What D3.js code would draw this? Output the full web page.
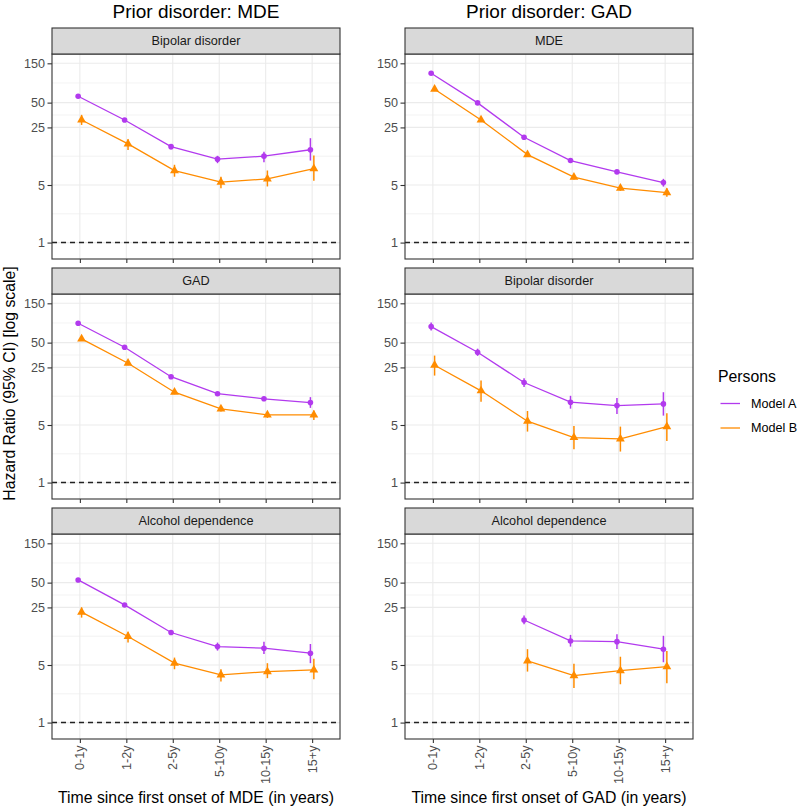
<!DOCTYPE html>
<html>
<head>
<meta charset="utf-8">
<script src="https://cdn.jsdelivr.net/npm/d3@7"></script>
<style>
  html, body { margin: 0; padding: 0; background: #fff; }
  svg { display: block; font-family: "Liberation Sans", Arial, sans-serif; }
</style>
</head>
<body>
<svg id="chart" width="800" height="809"></svg>
<script>
// ---------------- DATA ----------------
const categories = ["0-1y", "1-2y", "2-5y", "5-10y", "10-15y", "15+y"];
const columnTitles = ["Prior disorder: MDE", "Prior disorder: GAD"];
const xAxisTitles = ["Time since first onset of MDE (in years)", "Time since first onset of GAD (in years)"];
const yTickValues = [1, 5, 25, 50, 150];
const seriesNames = ["Model A", "Model B"];
const legendTitle = "Persons";
const yAxisTitle = "Hazard Ratio (95% CI) [log scale]";

// Column 1: prior MDE
const mdeStrips = ["Bipolar disorder", "GAD", "Alcohol dependence"];
// Column 2: prior GAD
const gadStrips = ["MDE", "Bipolar disorder", "Alcohol dependence"];

// MDE -> Bipolar disorder
const mdeBipA    = [59.8, 30.8, 14.6, 10.3, 11.2, 13.4];
const mdeBipA_lo = [56.5, 29.2, 13.6, 9.2, 9.45, 9.9];
const mdeBipA_hi = [63.5, 32.5, 15.7, 11.3, 12.7, 18.5];
const mdeBipB    = [30.8, 15.8, 7.48, 5.41, 5.93, 7.9];
const mdeBipB_lo = [26.8, 13.3, 6.3, 4.57, 4.8, 5.65];
const mdeBipB_hi = [35.5, 18.0, 8.8, 6.3, 7.5, 11.4];

// MDE -> GAD
const mdeGadA    = [86.0, 44.0, 19.3, 12.0, 10.4, 9.35];
const mdeGadA_lo = [83.0, 42.5, 18.5, 11.4, 9.8, 8.07];
const mdeGadA_hi = [89.0, 45.5, 20.1, 12.6, 11.0, 10.9];
const mdeGadB    = [55.5, 28.1, 12.5, 7.84, 6.63, 6.63];
const mdeGadB_lo = [52.5, 26.5, 11.8, 7.3, 6.1, 5.77];
const mdeGadB_hi = [58.5, 29.8, 13.2, 8.4, 7.2, 7.5];

// MDE -> Alcohol dependence
const mdeAlcA    = [53.9, 26.8, 12.4, 8.36, 8.0, 6.95];
const mdeAlcA_lo = [51.0, 25.4, 11.6, 7.48, 6.8, 5.26];
const mdeAlcA_hi = [57.0, 28.3, 13.3, 9.35, 9.6, 9.0];
const mdeAlcB    = [21.9, 11.1, 5.26, 3.79, 4.16, 4.36];
const mdeAlcB_lo = [18.8, 9.35, 4.44, 3.15, 3.46, 3.36];
const mdeAlcB_hi = [25.0, 12.7, 6.15, 4.44, 5.26, 5.94];

// GAD -> MDE
const gadMdeA    = [113.7, 49.6, 19.0, 9.9, 7.21, 5.35];
const gadMdeA_lo = [109.0, 47.8, 18.2, 9.4, 6.85, 4.78];
const gadMdeA_hi = [118.5, 51.4, 19.8, 10.4, 7.6, 5.94];
const gadMdeB    = [72.7, 30.8, 11.7, 6.22, 4.57, 4.04];
const gadMdeB_lo = [69.0, 29.4, 11.1, 5.85, 4.25, 3.6];
const gadMdeB_hi = [76.5, 32.3, 12.3, 6.6, 4.9, 4.57];

// GAD -> Bipolar disorder
const gadBipA    = [78.2, 38.2, 16.4, 9.46, 8.6, 9.02];
const gadBipA_lo = [70.1, 34.5, 14.5, 7.9, 6.8, 6.5];
const gadBipA_hi = [87.6, 42.2, 18.5, 11.3, 10.6, 12.5];
const gadBipB    = [26.6, 13.0, 5.56, 3.52, 3.39, 4.78];
const gadBipB_lo = [19.9, 9.6, 4.16, 2.54, 2.38, 3.2];
const gadBipB_hi = [34.8, 17.3, 7.4, 4.87, 4.78, 6.95];

// GAD -> Alcohol dependence (no estimates for first two intervals)
const gadAlcA    = [null, null, 17.6, 9.8, 9.6, 7.78];
const gadAlcA_lo = [null, null, 15.6, 8.36, 7.84, 5.4];
const gadAlcA_hi = [null, null, 19.9, 11.6, 11.8, 11.3];
const gadAlcB    = [null, null, 5.6, 3.72, 4.27, 4.78];
const gadAlcB_lo = [null, null, 4.16, 2.62, 2.92, 3.0];
const gadAlcB_hi = [null, null, 7.78, 5.16, 6.3, 7.4];

// --------------- STYLE / LAYOUT ---------------
const colors = ["#B23AEE", "#FF8C00"];
const panelX = [[52, 340], [405, 693]];
const stripTops = [28, 268, 508];
const stripH = 26;
const panelH = 205;
const dodgeFrac = 0.037;
const FS_TITLE = 19, FS_AXIS = 15.8, FS_TICK = 12.6, FS_STRIP = 12.7;

function makeSeries(est, lo, hi) {
  return categories.map((c, i) => ({ cat: c, v: est[i], lo: lo[i], hi: hi[i] }))
                   .filter(d => d.v != null);
}

const panels = [
  { col: 0, row: 0, strip: mdeStrips[0], series: [makeSeries(mdeBipA, mdeBipA_lo, mdeBipA_hi), makeSeries(mdeBipB, mdeBipB_lo, mdeBipB_hi)] },
  { col: 0, row: 1, strip: mdeStrips[1], series: [makeSeries(mdeGadA, mdeGadA_lo, mdeGadA_hi), makeSeries(mdeGadB, mdeGadB_lo, mdeGadB_hi)] },
  { col: 0, row: 2, strip: mdeStrips[2], series: [makeSeries(mdeAlcA, mdeAlcA_lo, mdeAlcA_hi), makeSeries(mdeAlcB, mdeAlcB_lo, mdeAlcB_hi)] },
  { col: 1, row: 0, strip: gadStrips[0], series: [makeSeries(gadMdeA, gadMdeA_lo, gadMdeA_hi), makeSeries(gadMdeB, gadMdeB_lo, gadMdeB_hi)] },
  { col: 1, row: 1, strip: gadStrips[1], series: [makeSeries(gadBipA, gadBipA_lo, gadBipA_hi), makeSeries(gadBipB, gadBipB_lo, gadBipB_hi)] },
  { col: 1, row: 2, strip: gadStrips[2], series: [makeSeries(gadAlcA, gadAlcA_lo, gadAlcA_hi), makeSeries(gadAlcB, gadAlcB_lo, gadAlcB_hi)] },
];

const svg = d3.select("#chart");

// y domain: limits [0.82, 150] expanded by 5% on log scale (ggplot-like)
const lLo = Math.log10(0.82), lHi = Math.log10(150);
const ex = (lHi - lLo) * 0.05;
const yDomain = [Math.pow(10, lLo - ex), Math.pow(10, lHi + ex)];

// minor break values: midpoints between major breaks in log space
const minorVals = [];
for (let i = 0; i < yTickValues.length - 1; i++) {
  minorVals.push(Math.sqrt(yTickValues[i] * yTickValues[i + 1]));
}

const triangle = d3.symbol().type(d3.symbolTriangle).size(34);

panels.forEach(p => {
  const [x0, x1] = panelX[p.col];
  const sTop = stripTops[p.row];
  const pTop = sTop + stripH;
  const pBot = pTop + panelH;

  const x = d3.scalePoint().domain(categories).range([x0, x1]).padding(0.6);
  const y = d3.scaleLog().domain(yDomain).range([pBot, pTop]);
  const dodge = x.step() * dodgeFrac;

  const g = svg.append("g");

  g.append("rect").attr("x", x0).attr("y", pTop).attr("width", x1 - x0).attr("height", panelH)
    .attr("fill", "#fff");

  g.selectAll(".minor").data(minorVals).enter().append("line")
    .attr("x1", x0).attr("x2", x1)
    .attr("y1", d => y(d)).attr("y2", d => y(d))
    .attr("stroke", "#EBEBEB").attr("stroke-width", 0.6);

  g.selectAll(".majorH").data(yTickValues).enter().append("line")
    .attr("x1", x0).attr("x2", x1)
    .attr("y1", d => y(d)).attr("y2", d => y(d))
    .attr("stroke", "#EBEBEB").attr("stroke-width", 1.1);

  g.selectAll(".majorV").data(categories).enter().append("line")
    .attr("x1", d => x(d)).attr("x2", d => x(d))
    .attr("y1", pTop).attr("y2", pBot)
    .attr("stroke", "#EBEBEB").attr("stroke-width", 1.1);

  g.append("line")
    .attr("x1", x0).attr("x2", x1)
    .attr("y1", y(1)).attr("y2", y(1))
    .attr("stroke", "#222").attr("stroke-width", 1.5)
    .attr("stroke-dasharray", "5,4");

  p.series.forEach((s, si) => {
    const off = si === 0 ? -dodge : dodge;
    const col = colors[si];
    const line = d3.line().x(d => x(d.cat) + off).y(d => y(d.v));
    g.append("path").datum(s).attr("d", line)
      .attr("fill", "none").attr("stroke", col).attr("stroke-width", 1.3);
    g.selectAll(null).data(s).enter().append("line")
      .attr("x1", d => x(d.cat) + off).attr("x2", d => x(d.cat) + off)
      .attr("y1", d => y(d.lo)).attr("y2", d => y(d.hi))
      .attr("stroke", col).attr("stroke-width", 1.5);
    if (si === 0) {
      g.selectAll(null).data(s).enter().append("circle")
        .attr("cx", d => x(d.cat) + off).attr("cy", d => y(d.v))
        .attr("r", 2.8).attr("fill", col);
    } else {
      g.selectAll(null).data(s).enter().append("path")
        .attr("d", triangle)
        .attr("transform", d => `translate(${x(d.cat) + off},${y(d.v)})`)
        .attr("fill", col);
    }
  });

  g.append("rect").attr("x", x0).attr("y", pTop).attr("width", x1 - x0).attr("height", panelH)
    .attr("fill", "none").attr("stroke", "#333").attr("stroke-width", 1.1);

  g.append("rect").attr("x", x0).attr("y", sTop).attr("width", x1 - x0).attr("height", stripH)
    .attr("fill", "#D9D9D9").attr("stroke", "#333").attr("stroke-width", 1.1);
  g.append("text").attr("x", (x0 + x1) / 2).attr("y", sTop + stripH / 2)
    .attr("text-anchor", "middle").attr("dominant-baseline", "central")
    .attr("font-size", FS_STRIP).attr("fill", "#1A1A1A").text(p.strip);

  const yAxis = d3.axisLeft(y).tickValues(yTickValues).tickFormat(d3.format("d"))
    .tickSize(4.5).tickPadding(2.5);
  const ya = g.append("g").attr("transform", `translate(${x0},0)`).call(yAxis);
  ya.select(".domain").remove();
  ya.selectAll(".tick line").attr("stroke", "#333").attr("stroke-width", 1.1);
  ya.selectAll(".tick text").attr("font-size", FS_TICK).attr("fill", "#4D4D4D")
    .attr("font-family", "Liberation Sans, Arial, sans-serif");

  const xAxis = d3.axisBottom(x).tickSize(4).tickPadding(2);
  const xa = g.append("g").attr("transform", `translate(0,${pBot})`).call(xAxis);
  xa.select(".domain").remove();
  xa.selectAll(".tick line").attr("stroke", "#333").attr("stroke-width", 1.1);
  if (p.row === 2) {
    xa.selectAll(".tick text")
      .attr("font-size", FS_TICK).attr("fill", "#4D4D4D")
      .attr("font-family", "Liberation Sans, Arial, sans-serif")
      .attr("text-anchor", "end")
      .attr("dy", null)
      .attr("dominant-baseline", "central")
      .attr("transform", "translate(0,6.5) rotate(-90)")
      .attr("x", 0).attr("y", 0);
  } else {
    xa.selectAll(".tick text").remove();
  }
});

columnTitles.forEach((t, i) => {
  svg.append("text").attr("x", (panelX[i][0] + panelX[i][1]) / 2).attr("y", 17.5)
    .attr("text-anchor", "middle").attr("font-size", FS_TITLE).attr("fill", "#000").text(t);
});

xAxisTitles.forEach((t, i) => {
  svg.append("text").attr("x", (panelX[i][0] + panelX[i][1]) / 2).attr("y", 803)
    .attr("text-anchor", "middle").attr("font-size", FS_AXIS).attr("fill", "#000").text(t);
});

const yMid = (stripTops[0] + stripTops[2] + stripH + panelH) / 2;
svg.append("text")
  .attr("transform", `translate(15,${yMid}) rotate(-90)`)
  .attr("text-anchor", "middle").attr("font-size", FS_AXIS).attr("fill", "#000").text(yAxisTitle);

const lg = svg.append("g");
lg.append("text").attr("x", 718).attr("y", 376).attr("dominant-baseline", "central")
  .attr("font-size", FS_AXIS).attr("fill", "#000").text(legendTitle);
seriesNames.forEach((n, i) => {
  const ly = 403.5 + i * 24.5;
  lg.append("line").attr("x1", 720.5).attr("x2", 740).attr("y1", ly).attr("y2", ly)
    .attr("stroke", colors[i]).attr("stroke-width", 1.3);
  lg.append("text").attr("x", 751).attr("y", ly).attr("dominant-baseline", "central")
    .attr("font-size", FS_TICK).attr("fill", "#000").text(n);
});
</script>
</body>
</html>
